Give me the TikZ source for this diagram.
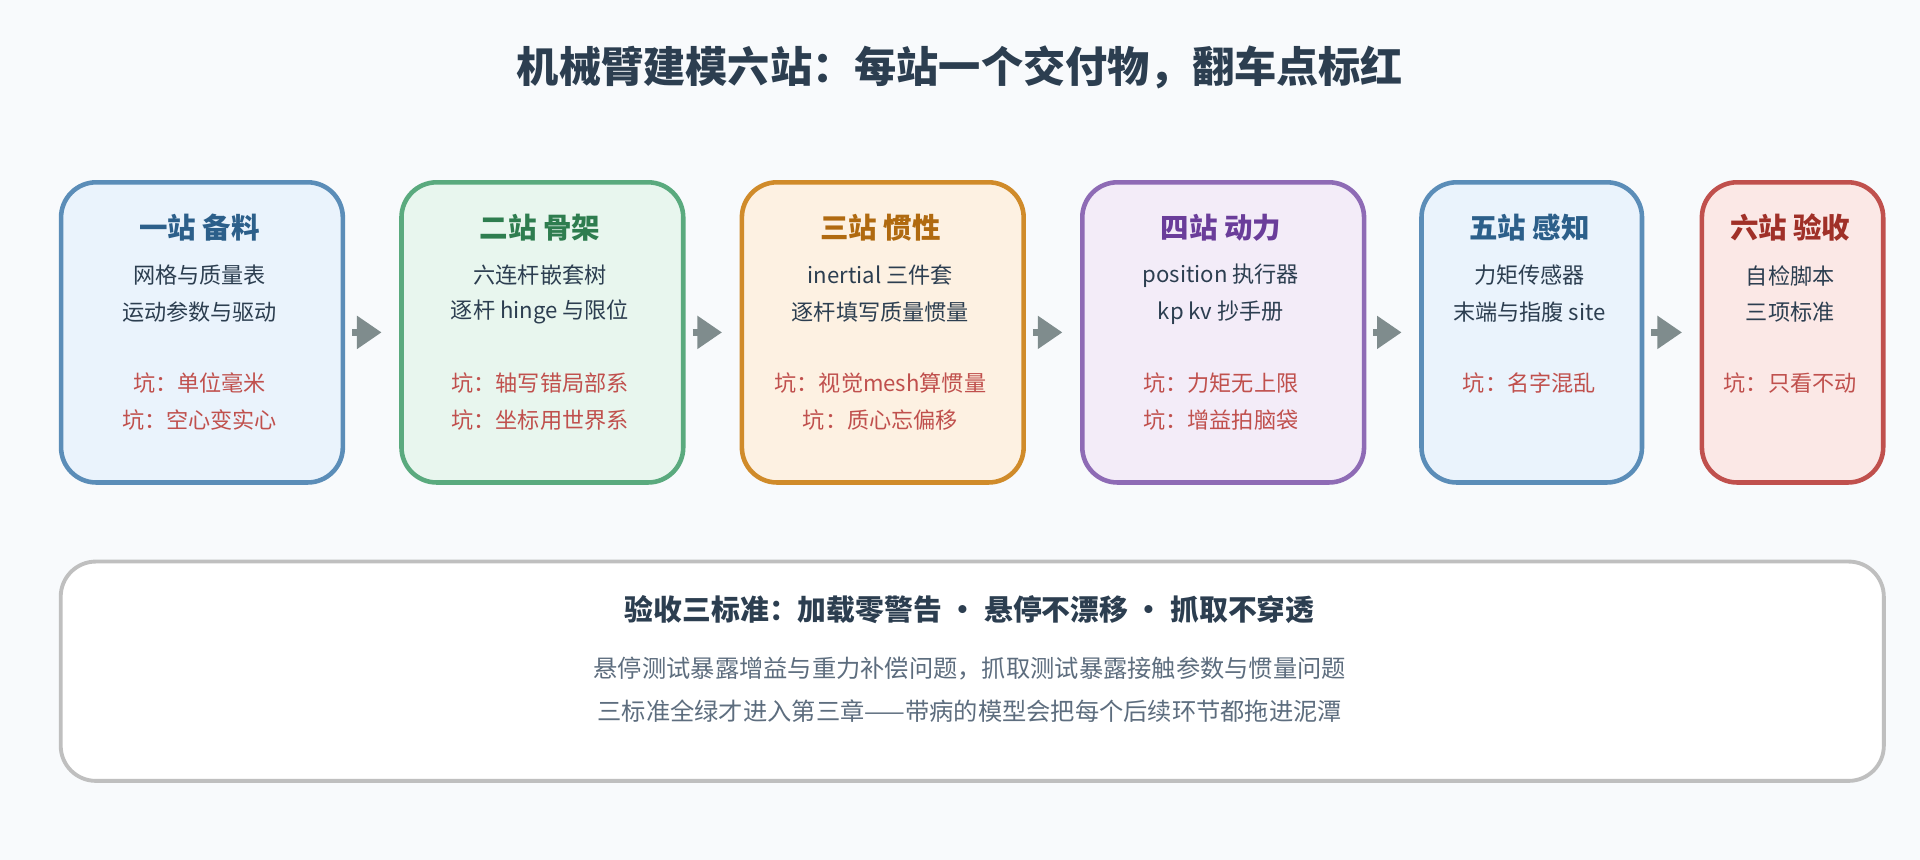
\documentclass[tikz,border=0pt]{standalone}
\usepackage{fontspec}
\setmainfont{Noto Sans CJK SC}
\usepackage{xcolor}
\definecolor{bgpage}{HTML}{F8FAFC}
\definecolor{inkdark}{HTML}{2C3E50}
\definecolor{inkgray}{HTML}{5D6D7E}
\definecolor{pitred}{HTML}{C0504D}
\definecolor{arrowgray}{HTML}{7F8C8D}
\definecolor{blueline}{HTML}{5B8DB8}\definecolor{bluefill}{HTML}{EAF3FC}\definecolor{bluetext}{HTML}{2C5F8A}
\definecolor{greenline}{HTML}{5AAA7E}\definecolor{greenfill}{HTML}{E8F6EE}\definecolor{greentext}{HTML}{2E7D4F}
\definecolor{orangeline}{HTML}{D08B2A}\definecolor{orangefill}{HTML}{FDF1E2}\definecolor{orangetext}{HTML}{B06A10}
\definecolor{purpleline}{HTML}{8E6BB5}\definecolor{purplefill}{HTML}{F3ECF8}\definecolor{purpletext}{HTML}{6A3D9A}
\definecolor{redline}{HTML}{C0504D}\definecolor{redfill}{HTML}{FBE8E6}\definecolor{redtext}{HTML}{A03028}
\usetikzlibrary{arrows.meta}

\begin{document}
\begin{tikzpicture}[x=0.012245cm, y=-0.012245cm,
  station/.style={draw, rounded corners=10pt, line width=1.3pt, anchor=north west, inner sep=0pt, minimum height=3cm},
  stitle/.style={font=\fontsize{8.1}{10}\selectfont\bfseries},
  sline/.style={font=\fontsize{6.3}{8}\selectfont, text=inkdark},
  spit/.style={font=\fontsize{6.3}{8}\selectfont, text=pitred},
  flow/.style={-{Triangle[length=7pt,width=9pt]}, line width=2pt, color=arrowgray}]
% Page
\fill[bgpage] (0,0) rectangle (1568,702);
\useasboundingbox (0,0) rectangle (1568,702);

% Title
\node[font=\fontsize{12}{14}\selectfont\bfseries, text=inkdark] (title) at (784,55) {机械臂建模六站：每站一个交付物，翻车点标红};

% Stations
\node[station, draw=blueline, fill=bluefill, minimum width=2.816cm] (s1) at (48,147) {};
\node[station, draw=greenline, fill=greenfill, minimum width=2.816cm] (s2) at (326,147) {};
\node[station, draw=orangeline, fill=orangefill, minimum width=2.816cm] (s3) at (604,147) {};
\node[station, draw=purpleline, fill=purplefill, minimum width=2.816cm] (s4) at (882,147) {};
\node[station, draw=blueline, fill=bluefill, minimum width=2.204cm] (s5) at (1159,147) {};
\node[station, draw=redline, fill=redfill, minimum width=1.812cm] (s6) at (1388,147) {};

% Station texts
\node[stitle, text=bluetext] at (163,186) {一站 备料};
\node[sline] at (163,225) {网格与质量表};
\node[sline] at (163,255) {运动参数与驱动};
\node[spit] at (163,313) {坑：单位毫米};
\node[spit] at (163,343) {坑：空心变实心};

\node[stitle, text=greentext] at (441,186) {二站 骨架};
\node[sline] at (441,225) {六连杆嵌套树};
\node[sline] at (441,255) {逐杆 hinge 与限位};
\node[spit] at (441,313) {坑：轴写错局部系};
\node[spit] at (441,343) {坑：坐标用世界系};

\node[stitle, text=orangetext] at (719,186) {三站 惯性};
\node[sline] at (719,225) {inertial 三件套};
\node[sline] at (719,255) {逐杆填写质量惯量};
\node[spit] at (719,313) {坑：视觉mesh算惯量};
\node[spit] at (719,343) {坑：质心忘偏移};

\node[stitle, text=purpletext] at (997,186) {四站 动力};
\node[sline] at (997,225) {position 执行器};
\node[sline] at (997,255) {kp kv 抄手册};
\node[spit] at (997,313) {坑：力矩无上限};
\node[spit] at (997,343) {坑：增益拍脑袋};

\node[stitle, text=bluetext] at (1249,186) {五站 感知};
\node[sline] at (1249,225) {力矩传感器};
\node[sline] at (1249,255) {末端与指腹 site};
\node[spit] at (1249,313) {坑：名字混乱};

\node[stitle, text=redtext] at (1462,186) {六站 验收};
\node[sline] at (1462,225) {自检脚本};
\node[sline] at (1462,255) {三项标准};
\node[spit] at (1462,313) {坑：只看不动};

% Flow
\draw[flow, shorten <=2pt, shorten >=5pt] (s1.east) -- (s2.west);
\draw[flow, shorten <=2pt, shorten >=5pt] (s2.east) -- (s3.west);
\draw[flow, shorten <=2pt, shorten >=5pt] (s3.east) -- (s4.west);
\draw[flow, shorten <=2pt, shorten >=5pt] (s4.east) -- (s5.west);
\draw[flow, shorten <=2pt, shorten >=5pt] (s5.east) -- (s6.west);

% Acceptance
\node[draw=black!25, fill=white, rounded corners=10pt, line width=1.1pt, anchor=north west,
  minimum width=18.22cm, minimum height=2.192cm, inner sep=0pt] (acc) at (48,457) {};
\node[font=\fontsize{8.2}{10}\selectfont\bfseries, text=inkdark] (acct) at (792,498) {验收三标准：加载零警告 • 悬停不漂移 • 抓取不穿透};
\node[font=\fontsize{6.9}{8}\selectfont, text=inkgray] at (792,546) {悬停测试暴露增益与重力补偿问题，抓取测试暴露接触参数与惯量问题};
\node[font=\fontsize{6.9}{8}\selectfont, text=inkgray] at (792,581) {三标准全绿才进入第三章——带病的模型会把每个后续环节都拖进泥潭};
\end{tikzpicture}
\end{document}
